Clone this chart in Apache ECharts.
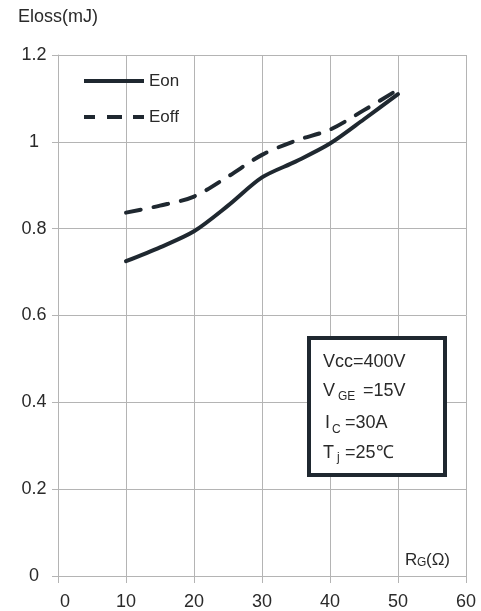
<!DOCTYPE html>
<html>
<head>
<meta charset="utf-8">
<script src="https://cdn.jsdelivr.net/npm/echarts@6/dist/echarts.min.js"></script>
<style>
  html, body { margin: 0; padding: 0; background: #fff; }
  #chart { width: 481px; height: 611px; }
</style>
</head>
<body>
<div id="chart"></div>
<script>
// Switching loss versus gate resistance
const rgValues = [10, 15, 20, 25, 30, 35, 40, 45, 50];
const eonValues = [0.725, 0.757, 0.794, 0.853, 0.918, 0.955, 0.996, 1.052, 1.110];
const eoffValues = [0.837, 0.853, 0.874, 0.920, 0.970, 1.003, 1.028, 1.073, 1.120];
const xTicks = [0, 10, 20, 30, 40, 50, 60];
const yTicks = [0, 0.2, 0.4, 0.6, 0.8, 1, 1.2];

const FONT = '"Liberation Sans", Arial, sans-serif';
const INK = '#1f2830';
const GRID = '#b4b4b4';
const TEXT = '#2a2a2a';

const pairs = (xs, ys) => xs.map((x, i) => [x, ys[i]]);

// legend glyphs: a solid bar and a dashed bar, 60 x 4
const SOLID_ICON = 'path://M0,0H60V4H0Z';
const DASH_ICON = 'path://M0,0H11V4H0Z M23,0H38V4H23Z M49,0H60V4H49Z';

const chart = echarts.init(document.getElementById('chart'), null, { renderer: 'canvas' });

// text pieces of the test-condition box
const boxText = (x, y, text, size) => ({
  type: 'text', x: x, y: y, z: 101,
  style: { text: text, font: size + 'px ' + FONT, fill: TEXT, verticalAlign: 'middle', align: 'left' }
});

chart.setOption({
  animation: false,
  backgroundColor: '#fff',
  textStyle: { fontFamily: FONT },
  grid: { left: 58, right: 15, top: 55, bottom: 35, containLabel: false },
  legend: {
    orient: 'vertical', left: 84, top: 71, padding: 0,
    itemWidth: 60, itemHeight: 4, itemGap: 16,
    itemStyle: { color: INK, borderWidth: 0 },
    textStyle: { fontSize: 17, lineHeight: 20, color: TEXT, fontFamily: FONT },
    data: [
      { name: 'Eon', icon: SOLID_ICON },
      { name: 'Eoff', icon: DASH_ICON }
    ]
  },
  xAxis: {
    type: 'value', min: xTicks[0], max: xTicks[xTicks.length - 1], interval: 10,
    axisLine: { show: true, lineStyle: { color: GRID, width: 1 } },
    axisTick: { show: true, length: 7, lineStyle: { color: GRID } },
    splitLine: { show: true, lineStyle: { color: GRID, width: 1 } },
    axisLabel: {
      fontSize: 18, color: TEXT, margin: 17, fontFamily: FONT,
      formatter: v => v === 0 ? '{z|0}' : String(v),
      rich: { z: { fontSize: 18, color: TEXT, fontFamily: FONT, padding: [0, 0, 0, 14] } }
    }
  },
  yAxis: {
    type: 'value', min: yTicks[0], max: yTicks[yTicks.length - 1], interval: 0.2,
    name: 'Eloss(mJ)', nameLocation: 'end', nameGap: 38,
    nameTextStyle: { fontSize: 18, color: TEXT, fontFamily: FONT, align: 'center', verticalAlign: 'middle' },
    axisLine: { show: true, lineStyle: { color: GRID, width: 1 } },
    axisTick: { show: true, length: 6, lineStyle: { color: GRID } },
    splitLine: { show: true, lineStyle: { color: GRID, width: 1 } },
    axisLabel: {
      fontSize: 18, color: TEXT, margin: 24, align: 'center', fontFamily: FONT,
      formatter: v => String(Math.round(v * 10) / 10)
    }
  },
  series: [
    {
      name: 'Eon', type: 'line', smooth: 0.3, symbol: 'none',
      data: pairs(rgValues, eonValues),
      lineStyle: { color: INK, width: 4, cap: 'round', join: 'round' },
      itemStyle: { color: INK }
    },
    {
      name: 'Eoff', type: 'line', smooth: 0.3, symbol: 'none',
      data: pairs(rgValues, eoffValues),
      lineStyle: { color: INK, width: 4, type: [15, 13], cap: 'round', join: 'round' },
      itemStyle: { color: INK }
    }
  ],
  graphic: [
    // x axis name R_G(Ω)
    { type: 'text', x: 405, y: 560, z: 100, style: { text: 'R', font: '17px ' + FONT, fill: TEXT, verticalAlign: 'middle' } },
    { type: 'text', x: 417, y: 563, z: 100, style: { text: 'G', font: '12px ' + FONT, fill: TEXT, verticalAlign: 'middle' } },
    { type: 'text', x: 426, y: 560, z: 100, style: { text: '(Ω)', font: '17px ' + FONT, fill: TEXT, verticalAlign: 'middle' } },
    // test-condition box
    { type: 'rect', z: 100, shape: { x: 309, y: 338, width: 136, height: 137 },
      style: { fill: '#fff', stroke: INK, lineWidth: 4 } },
    boxText(323, 362, 'Vcc=400V', 18),
    boxText(323, 391, 'V', 18),
    boxText(338, 397, 'GE', 12),
    boxText(358, 391, ' =15V', 18),
    boxText(325, 423, 'I', 18),
    boxText(332, 430, 'C', 12),
    boxText(340, 423, ' =30A', 18),
    boxText(323, 453, 'T', 18),
    boxText(337, 458, 'j', 12),
    boxText(340, 453, ' =25℃', 18)
  ]
});
</script>
</body>
</html>
